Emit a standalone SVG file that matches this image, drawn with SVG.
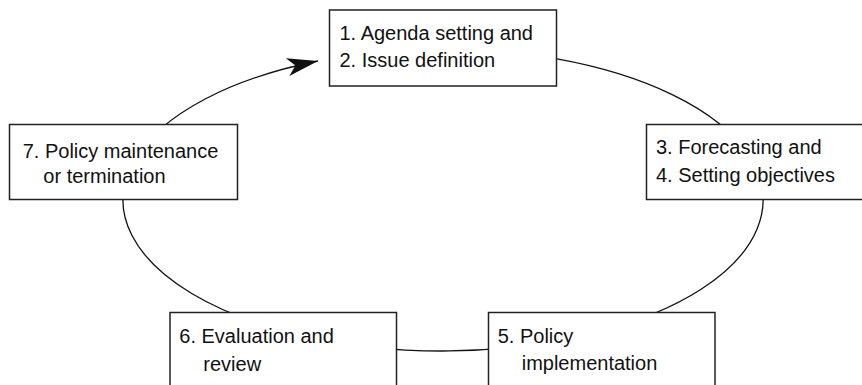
<svg xmlns="http://www.w3.org/2000/svg" width="862" height="385" viewBox="0 0 862 385">
  <defs>
    <style>
      .box { fill: #ffffff; stroke: #222222; stroke-width: 1.5; }
      .lbl { font-family: "Liberation Sans", Arial, sans-serif; font-size: 20px; fill: #111111; }
      .link { fill: none; stroke: #111111; stroke-width: 1.3; }
    </style>
    <marker id="head" markerUnits="userSpaceOnUse" viewBox="-32 -10 34 20" refX="0" refY="0" markerWidth="34" markerHeight="20" orient="auto">
      <path d="M0,0 L-31,-9 L-23,0 L-31,9 Z" fill="#111111"/>
    </marker>
  </defs>

  <!-- policy cycle loop: one elliptical arc running clockwise, ending in an arrowhead -->
  <g id="connectors">
    <path class="link" d="M557,58.9 A320 151 0 1 1 318,61" marker-end="url(#head)"/>
  </g>

  <g id="node-agenda">
    <rect class="box" x="329.5" y="10" width="227" height="76"/>
    <text class="lbl" x="339.5" y="39.5">1. Agenda setting and</text>
    <text class="lbl" x="339.5" y="66.7">2. Issue definition</text>
  </g>

  <g id="node-forecasting">
    <rect class="box" x="646.5" y="124.5" width="230" height="75"/>
    <text class="lbl" x="656" y="154.3">3. Forecasting and</text>
    <text class="lbl" x="656" y="181.7">4. Setting objectives</text>
  </g>

  <g id="node-implementation">
    <rect class="box" x="488.5" y="312.5" width="226.5" height="80"/>
    <text class="lbl" x="497.7" y="343.3">5. Policy</text>
    <text class="lbl" x="521.7" y="370">implementation</text>
  </g>

  <g id="node-evaluation">
    <rect class="box" x="170" y="312.5" width="226.5" height="80"/>
    <text class="lbl" x="179.3" y="343.3">6. Evaluation and</text>
    <text class="lbl" x="203.3" y="370.5">review</text>
  </g>

  <g id="node-maintenance">
    <rect class="box" x="9.5" y="124.5" width="228" height="75"/>
    <text class="lbl" x="22.7" y="157.7">7. Policy maintenance</text>
    <text class="lbl" x="43.3" y="183">or termination</text>
  </g>
</svg>
